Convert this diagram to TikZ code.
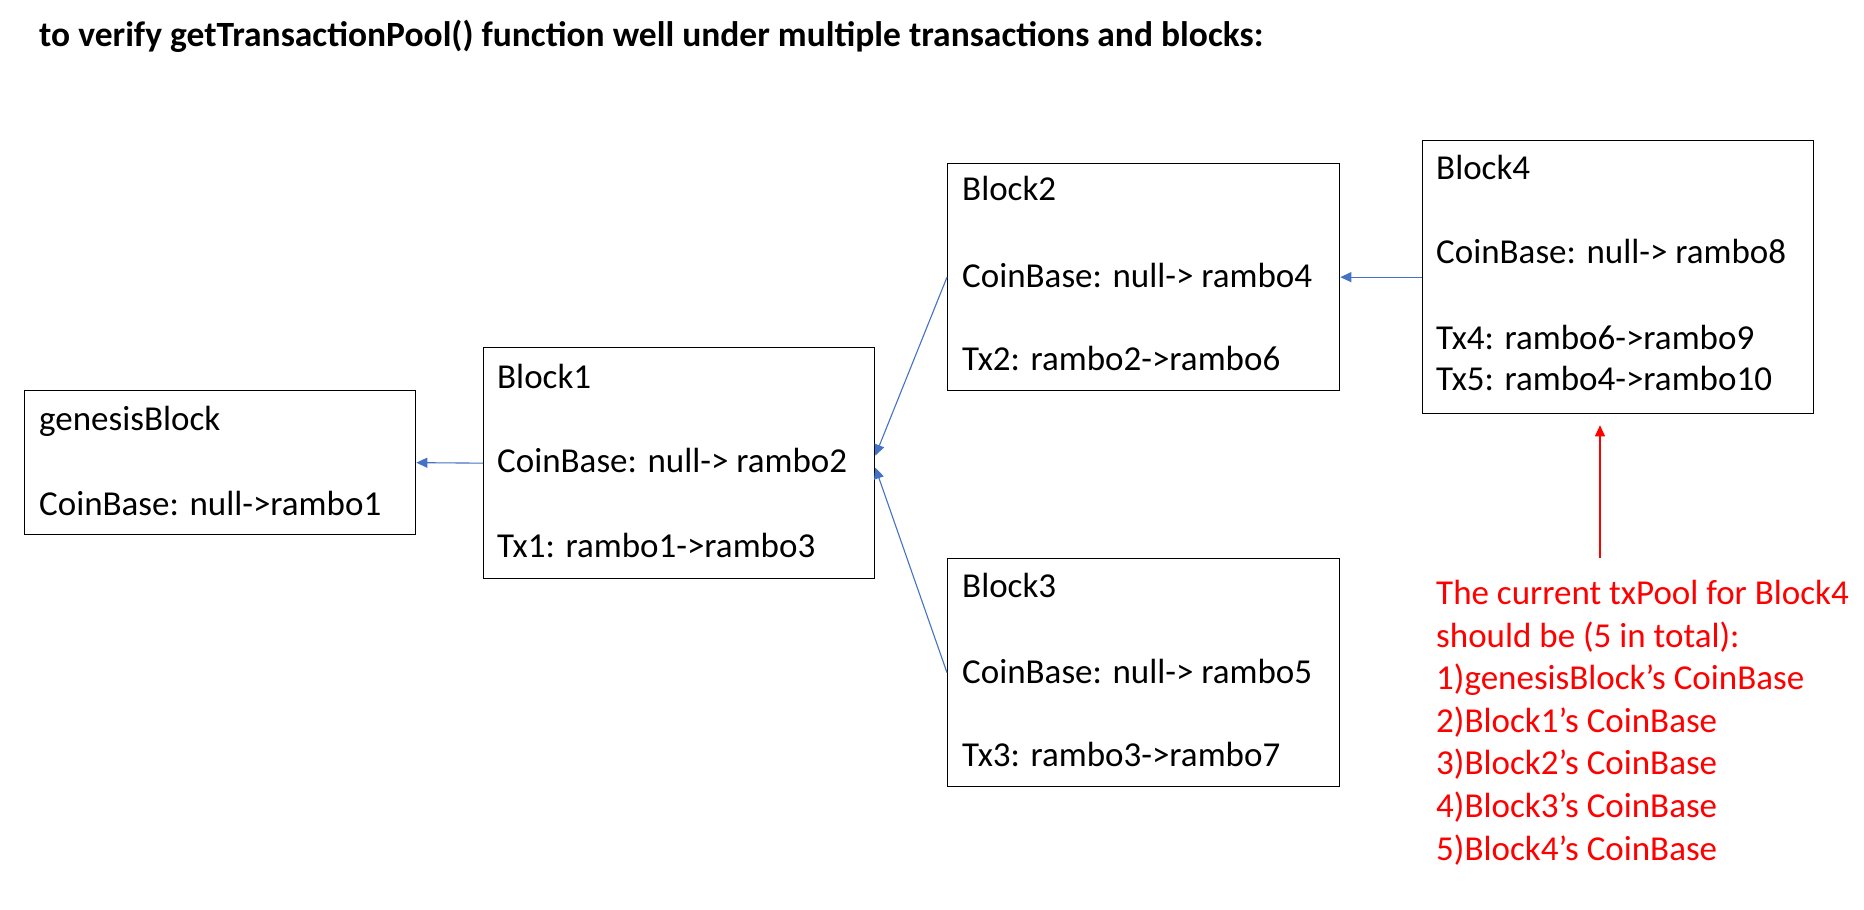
\documentclass[tikz,border=0pt]{standalone}
\usepackage{fontspec}
\setmainfont{Carlito}
\usetikzlibrary{arrows.meta}
\definecolor{arrblue}{HTML}{4472C4}
\definecolor{notered}{HTML}{FF0000}
\begin{document}
\begin{tikzpicture}[x=1pt,y=-1pt,
  blk/.style={draw=black, line width=1.3pt, inner sep=0pt, anchor=north west},
  txt/.style={anchor=mid west, inner sep=0pt, font=\fontsize{35}{42}\selectfont},
  link/.style={draw=arrblue, line width=1.1pt, -{Triangle[length=11pt,width=10pt]}},
  notearrow/.style={draw=notered, line width=1.1pt, -{Triangle[length=11pt,width=10pt]}},
  notetext/.style={anchor=north west, inner sep=0pt, align=left, text=notered,
    font=\fontsize{35}{42.6}\selectfont},
  titletext/.style={anchor=mid west, inner sep=0pt, font=\bfseries\fontsize{35.5}{40}\selectfont}
]
\useasboundingbox (0,0) rectangle (1864,910);

\node[titletext] (title) at (39,44) {to verify getTransactionPool() function well under multiple transactions and blocks:};

% boxes
\node[blk, minimum width=391pt, minimum height=144pt] (g) at (24,390) {};
\node[blk, minimum width=391pt, minimum height=231pt] (b1) at (483,347) {};
\node[blk, minimum width=392pt, minimum height=227pt] (b2) at (947,163) {};
\node[blk, minimum width=392pt, minimum height=228pt] (b3) at (947,558) {};
\node[blk, minimum width=391pt, minimum height=273pt] (b4) at (1422,140) {};

% texts
\node[txt] (g1) at (39,428) {genesisBlock};
\node[txt] (g2) at (39,513) {CoinBase: null->rambo1};

\node[txt] (b1a) at (497,386) {Block1};
\node[txt] (b1b) at (497,470) {CoinBase: null-> rambo2};
\node[txt] (b1c) at (497,555) {Tx1: rambo1->rambo3};

\node[txt] (b2a) at (962,198) {Block2};
\node[txt] (b2b) at (962,285) {CoinBase: null-> rambo4};
\node[txt] (b2c) at (962,368) {Tx2: rambo2->rambo6};

\node[txt] (b3a) at (962,595) {Block3};
\node[txt] (b3b) at (962,681) {CoinBase: null-> rambo5};
\node[txt] (b3c) at (962,764) {Tx3: rambo3->rambo7};

\node[txt] (b4a) at (1436,177) {Block4};
\node[txt] (b4b) at (1436,261) {CoinBase: null-> rambo8};
\node[txt] (b4c) at (1436,347) {Tx4: rambo6->rambo9};
\node[txt] (b4d) at (1436,388) {Tx5: rambo4->rambo10};

% connectors
\draw[link] (b1.west) -- (g.east);
\draw[link] (b2.west) -- ([yshift=7.5pt]b1.east);
\draw[link] (b3.west) -- ([yshift=-4.5pt]b1.east);
\draw[link] (b4.west) -- (b2.east);

% note
\node[notetext] (pool) at (1436,580) {The current txPool for Block4\\should be (5 in total):\\1)genesisBlock’s CoinBase\\2)Block1’s CoinBase\\3)Block2’s CoinBase\\4)Block3’s CoinBase\\5)Block4’s CoinBase};
\coordinate (notestart) at (1600,558);
\draw[notearrow] (notestart) -- ([yshift=-11pt]b4.south -| notestart);
\end{tikzpicture}
\end{document}
